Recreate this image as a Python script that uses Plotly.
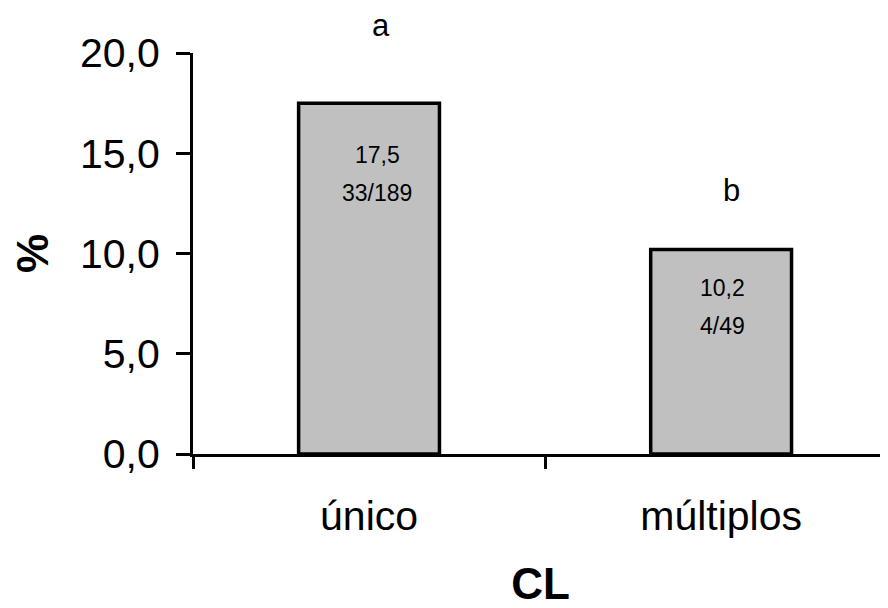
import plotly.graph_objects as go

categories = ["único", "múltiplos"]
percent = [17.5, 10.2]
fractions = ["33/189", "4/49"]
letters = ["a", "b"]
y_ticks = [0, 5, 10, 15, 20]

FONT = "Arial, Liberation Sans, sans-serif"

def fmt(v):
    return f"{v:.1f}".replace(".", ",")

fig = go.Figure()
fig.add_trace(go.Bar(
    x=categories, y=percent, width=0.40,
    marker=dict(color="#C0C0C0", line=dict(color="black", width=3.5)),
    hoverinfo="skip", showlegend=False,
))

# per-bar label offsets (pixels) for layout only
label_shift = [-52, -39]
label_xshift = [8, 1]
letter_shift = [78, 59]
letter_xshift = [12, 10]

for i, c in enumerate(categories):
    fig.add_annotation(x=c, y=percent[i], xref="x", yref="y",
                       text=fmt(percent[i]), showarrow=False,
                       yanchor="middle", yshift=label_shift[i], xshift=label_xshift[i],
                       font=dict(family=FONT, size=23, color="black"))
    fig.add_annotation(x=c, y=percent[i], xref="x", yref="y",
                       text=fractions[i], showarrow=False,
                       yanchor="middle", yshift=label_shift[i] - 38, xshift=label_xshift[i],
                       font=dict(family=FONT, size=23, color="black"))
    fig.add_annotation(x=c, y=percent[i], xref="x", yref="y",
                       text=letters[i], showarrow=False,
                       yanchor="middle", yshift=letter_shift[i], xshift=letter_xshift[i],
                       font=dict(family=FONT, size=31, color="black"))

fig.update_layout(
    width=880, height=600,
    margin=dict(l=185, r=0, t=45, b=154, autoexpand=False),
    paper_bgcolor="white", plot_bgcolor="white",
    separators=",.",
    font=dict(family=FONT, color="black"),
    bargap=0.6,
)
fig.update_xaxes(
    range=[-0.5, 1.474], showline=True, linecolor="black", linewidth=3,
    ticks="outside", tickson="boundaries", ticklen=12, tickwidth=3, tickcolor="black",
    tickfont=dict(family=FONT, size=41, color="black"), ticklabelstandoff=24,
    showgrid=False, zeroline=False, automargin=False,
    title=dict(text="<b>CL</b>", font=dict(family=FONT, size=44, color="black"), standoff=40),
)
fig.update_yaxes(
    range=[0, 20], tickvals=y_ticks, tickformat=".1f",
    showline=True, linecolor="black", linewidth=3,
    ticks="outside", ticklen=14, tickwidth=3, tickcolor="black",
    tickfont=dict(family=FONT, size=41, color="black"), ticklabelstandoff=8,
    showgrid=False, zeroline=False, automargin=False,
    title=dict(text="<b>%</b>", font=dict(family=FONT, size=44, color="black"), standoff=30),
)

fig.write_html("out.html")
